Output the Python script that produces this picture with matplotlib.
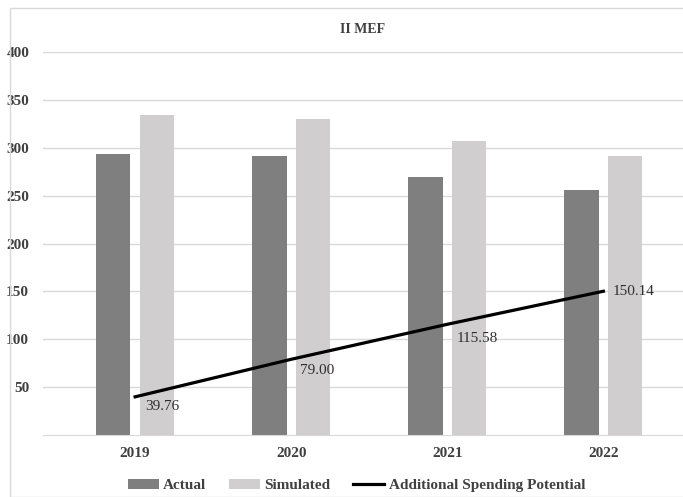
import matplotlib.pyplot as plt
import numpy as np
from matplotlib.patches import Rectangle

plt.rcParams['font.family'] = ['Liberation Serif', 'DejaVu Serif']
plt.rcParams['font.weight'] = 'bold'

years = ['2019', '2020', '2021', '2022']
actual = [294, 291, 270, 256]
simulated = [334, 330, 307, 291]
potential = [39.76, 79.00, 115.58, 150.14]
# label offsets in points (dx, dy)
label_offsets = [(7, -7), (6, -8), (7, -10), (7, 0)]

fig = plt.figure(figsize=(6.83, 4.97), dpi=100)
ax = fig.add_axes([0.063, 0.125, 0.937, 0.77])

# light frame around the whole chart
fig.patches.append(Rectangle((10 / 683, 0.0), 1.0, 1 - 8 / 497, transform=fig.transFigure,
                             fill=False, edgecolor='#d9d9d9', linewidth=1.0))

x = np.arange(len(years))
w = 0.22
b1 = ax.bar(x - 0.14, actual, w, color='#7f7f7f', label='Actual', zorder=2)
b2 = ax.bar(x + 0.14, simulated, w, color='#d0cecf', label='Simulated', zorder=2)
ln, = ax.plot(x, potential, color='black', linewidth=2.3, label='Additional Spending Potential', zorder=3)

for xi, v, off in zip(x, potential, label_offsets):
    ax.annotate(f'{v:.2f}', (xi, v), xytext=off, textcoords='offset points',
                ha='left', va='center', fontsize=11, fontweight='normal', color='#303030')

ax.set_xlim(-0.59, 3.51)
ax.set_ylim(0, 400)
ax.set_yticks([50, 100, 150, 200, 250, 300, 350, 400])
ax.set_xticks(x)
ax.set_xticklabels(years)
ax.tick_params(axis='both', length=0, labelsize=11, colors='#404040')
ax.tick_params(axis='y', pad=10)
ax.tick_params(axis='x', pad=9)
ax.grid(axis='y', color='#d9d9d9', linewidth=1.0, zorder=0)
for s in ['top', 'right', 'left']:
    ax.spines[s].set_visible(False)
ax.spines['bottom'].set_color('#d9d9d9')

ax.set_title('II MEF', fontsize=10, fontweight='bold', color='#404040', pad=14)

fig.legend([b1, b2, ln], ['Actual', 'Simulated', 'Additional Spending Potential'],
           loc='lower center', bbox_to_anchor=(0.522, -0.018), ncol=3, frameon=False,
           fontsize=11, handlelength=2.0, handleheight=0.7, columnspacing=1.5,
           handletextpad=0.3, labelcolor='#404040')

fig.savefig('out.png', dpi=100)
